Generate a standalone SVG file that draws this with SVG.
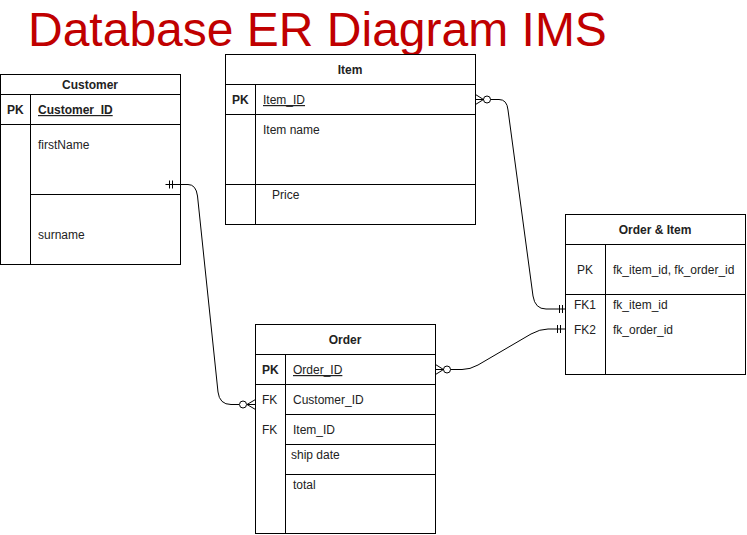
<svg xmlns="http://www.w3.org/2000/svg" width="747" height="535" viewBox="0 0 747 535">
<style>
.box{fill:#fff;stroke:#000;stroke-width:1}
.ln{stroke:#000;stroke-width:1;fill:none}
.t{font-family:"Liberation Sans",Arial,sans-serif;font-size:12px;fill:#222}
.b{font-weight:bold}
.c{text-anchor:middle}
.u{text-decoration:underline}
.title{font-family:"Liberation Sans",Arial,sans-serif;font-size:48px;fill:#C00000}
.edge{stroke:#000;stroke-width:1;fill:none}
</style>
<rect width="747" height="535" fill="#fff"/>
<text class="title" x="28" y="46">Database ER Diagram IMS</text>

<g id="customer">
<rect class="box" x="0.5" y="74.5" width="180" height="190"/>
<path class="ln" d="M0.5 94.5H180.5M0.5 124.5H180.5M30.5 194.5H180.5M30.5 94.5V264.5"/>
<text class="t b c" x="90" y="89">Customer</text>
<text class="t b" x="7" y="114">PK</text>
<text class="t b u" x="38" y="114">Customer_ID</text>
<text class="t" x="38" y="149">firstName</text>
<text class="t" x="38" y="239">surname</text>
</g>

<g id="item">
<rect class="box" x="225.5" y="54.5" width="250" height="170"/>
<path class="ln" d="M225.5 84.5H475.5M225.5 114.5H475.5M225.5 184.5H475.5M255.5 84.5V224.5"/>
<text class="t b c" x="350" y="74">Item</text>
<text class="t b" x="232" y="104">PK</text>
<text class="t u" x="263" y="104">Item_ID</text>
<text class="t" x="263" y="134">Item name</text>
<text class="t" x="272" y="199">Price</text>
</g>

<g id="orderitem">
<rect class="box" x="565.5" y="214.5" width="180" height="160"/>
<path class="ln" d="M565.5 244.5H745.5M565.5 294.5H745.5M605.5 244.5V374.5"/>
<text class="t b c" x="655" y="234">Order &amp; Item</text>
<text class="t" x="577" y="274">PK</text>
<text class="t" x="613" y="274">fk_item_id, fk_order_id</text>
<text class="t" x="574" y="309">FK1</text>
<text class="t" x="613" y="309">fk_item_id</text>
<text class="t" x="574" y="334">FK2</text>
<text class="t" x="613" y="334">fk_order_id</text>
</g>

<g id="order">
<rect class="box" x="255.5" y="324.5" width="180" height="209"/>
<path class="ln" d="M255.5 354.5H435.5M255.5 384.5H435.5M285.5 414.5H435.5M285.5 444.5H435.5M285.5 474.5H435.5M285.5 354.5V533.5"/>
<text class="t b c" x="345" y="344">Order</text>
<text class="t b" x="262" y="374">PK</text>
<text class="t u" x="293" y="374">Order_ID</text>
<text class="t" x="262" y="404">FK</text>
<text class="t" x="293" y="404">Customer_ID</text>
<text class="t" x="262" y="434">FK</text>
<text class="t" x="293" y="434">Item_ID</text>
<text class="t" x="291" y="459">ship date</text>
<text class="t" x="293" y="489">total</text>
</g>

<g id="connectors">
<!-- Customer to Order -->
<path class="edge" d="M165.5 184.5H188Q196 184.5 197.5 196L218 392Q219.5 404.5 231 404.5H239"/>
<path class="edge" d="M169.5 180.5V188.5M172.5 180.5V188.5"/>
<circle class="edge" cx="243" cy="404.5" r="3.5" fill="#fff"/>
<path class="edge" d="M255.5 399.5L247 404.5L255.5 409.5M247 404.5H255.5"/>

<!-- Item to Order & Item -->
<path class="edge" d="M490.5 99.5H499Q507 99.5 508 110L533 296Q535 309 546 309H565.5"/>
<circle class="edge" cx="487" cy="99.5" r="3.5" fill="#fff"/>
<path class="edge" d="M475.5 94.5L483.5 99.5L475.5 104.5M475.5 99.5H483.5"/>
<path class="edge" d="M559.5 305V313M562.5 305V313"/>

<!-- Order to Order & Item -->
<path class="edge" d="M450.5 369.5H462Q470 369.5 478 365L531 334Q540 329 548 329H565.5"/>
<circle class="edge" cx="447" cy="369.5" r="3.5" fill="#fff"/>
<path class="edge" d="M435.5 364.5L443.5 369.5L435.5 374.5M435.5 369.5H443.5"/>
<path class="edge" d="M557.5 325V333M560.5 325V333"/>
</g>
</svg>
